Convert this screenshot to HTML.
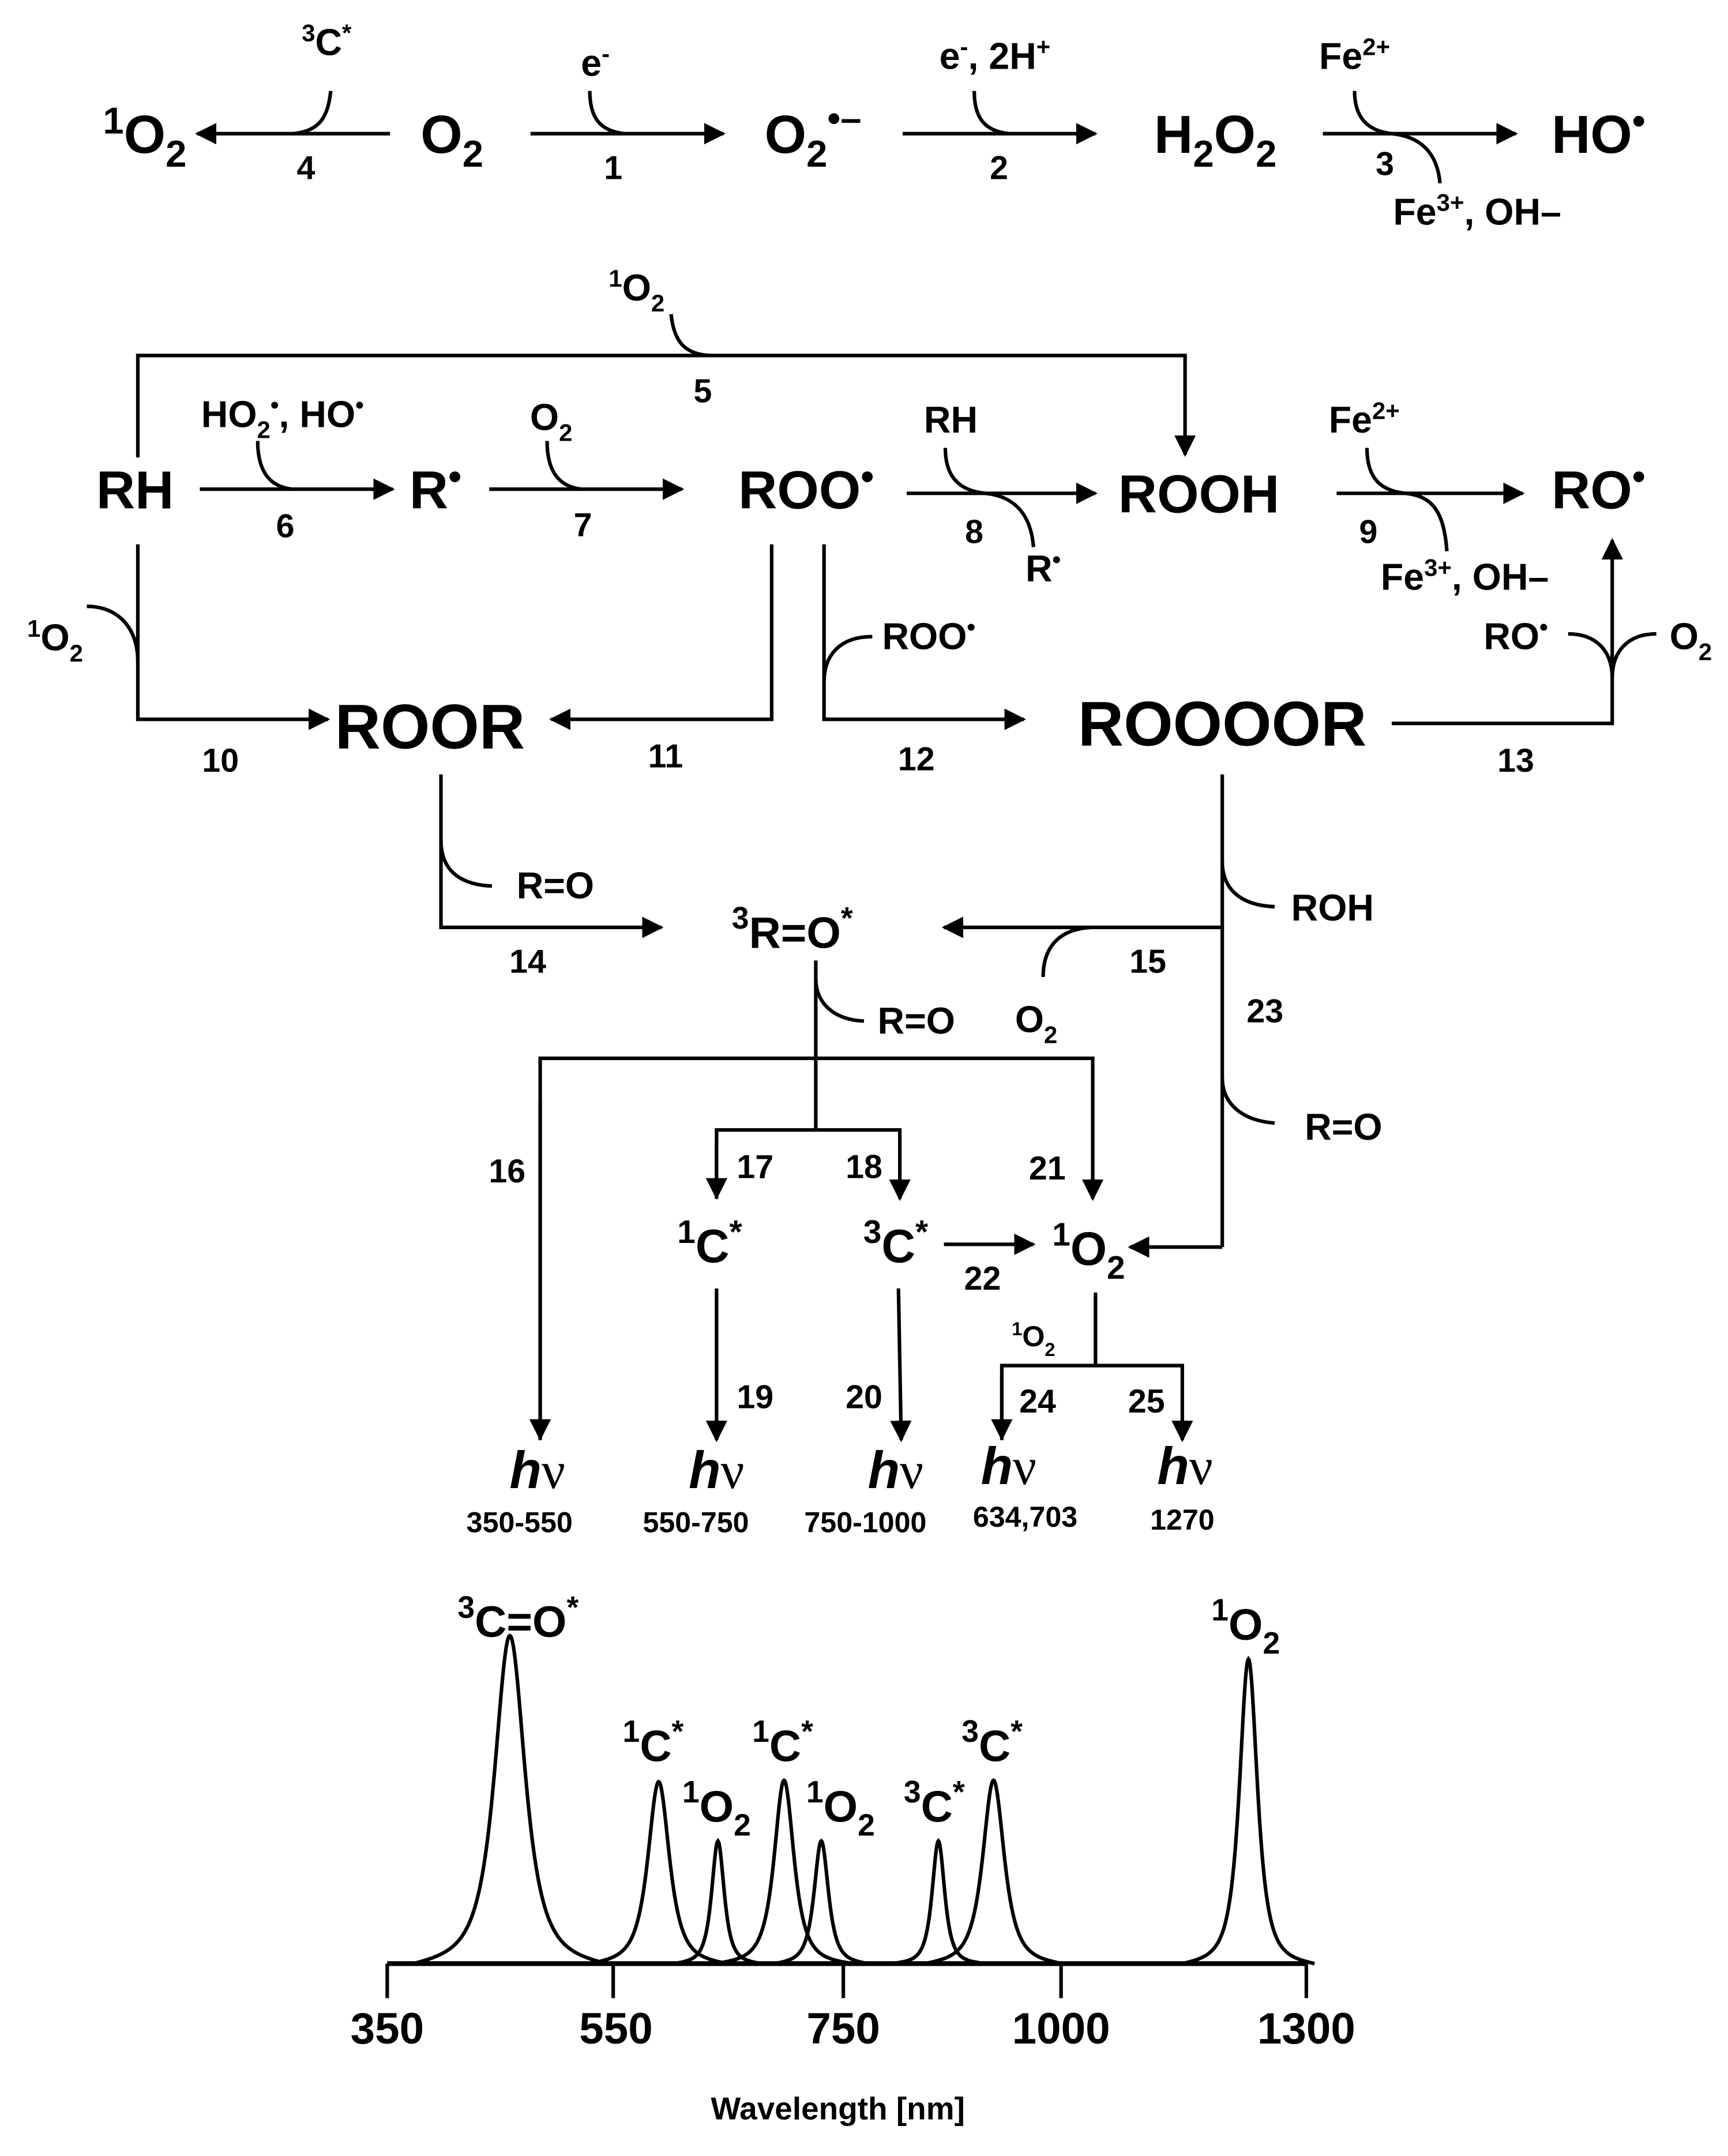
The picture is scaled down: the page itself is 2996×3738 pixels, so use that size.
<!DOCTYPE html>
<html><head><meta charset="utf-8"><style>
html,body{margin:0;padding:0;background:#fff;}
svg{display:block;}
text{font-family:"Liberation Sans",Arial,sans-serif;font-weight:bold;fill:#000;}
.L{font-size:39px;}
.XL{font-size:46px;}
.S{font-size:27px;}
.N{font-size:24px;}
.W{font-size:21px;}
.T{font-size:32px;}
.H{font-size:38px;}
.P{font-size:34px;}
path,line,polyline{fill:none;stroke:#000;stroke-width:2.6;}
</style></head><body>
<svg width="2996" height="3738" viewBox="0 0 1254 1564.6" xmlns="http://www.w3.org/2000/svg">
<defs>
<marker id="a" viewBox="0 0 10 10" refX="9" refY="5" markerWidth="6" markerHeight="6" orient="auto" markerUnits="strokeWidth">
<path d="M0,0 L10,5 L0,10 z" style="fill:#000;stroke:none"/></marker>
</defs>
<g text-anchor="middle">
<!-- Row 1 -->
<text class="L" x="105" y="111"><tspan font-size="70%" dy="-14">1</tspan><tspan dy="14">O</tspan><tspan font-size="70%" dy="10">2</tspan></text>
<line x1="283" y1="97" x2="143" y2="97" marker-end="url(#a)"/>
<path d="M240,66 C238,85 232,95 213,97"/>
<text class="S" x="237" y="40"><tspan font-size="65%" dy="-10">3</tspan><tspan dy="10">C</tspan><tspan font-size="65%" dy="-10">*</tspan></text>
<text class="N" x="222" y="130">4</text>
<text class="L" x="328" y="111">O<tspan font-size="70%" dy="10">2</tspan></text>
<line x1="385" y1="97" x2="525" y2="97" marker-end="url(#a)"/>
<path d="M428,66 C428,85 435,95 453,97"/>
<text class="S" x="432" y="55">e<tspan font-size="65%" dy="-10">-</tspan></text>
<text class="N" x="445" y="130">1</text>
<text class="L" x="590" y="111">O<tspan font-size="70%" dy="10">2</tspan><tspan font-size="70%" dy="-26">•–</tspan></text>
<line x1="655" y1="97" x2="795" y2="97" marker-end="url(#a)"/>
<path d="M707,66 C707,85 714,95 732,97"/>
<text class="S" x="722" y="50">e<tspan font-size="65%" dy="-10">-</tspan><tspan dy="10">, 2H</tspan><tspan font-size="65%" dy="-10">+</tspan></text>
<text class="N" x="725" y="130">2</text>
<text class="L" x="882" y="111">H<tspan font-size="70%" dy="10">2</tspan><tspan dy="-10">O</tspan><tspan font-size="70%" dy="10">2</tspan></text>
<line x1="960" y1="97" x2="1100" y2="97" marker-end="url(#a)"/>
<path d="M983,66 C983,85 992,95 1010,97 C1030,99 1043,110 1045,133"/>
<text class="S" x="983" y="50">Fe<tspan font-size="65%" dy="-10">2+</tspan></text>
<text class="N" x="1005" y="127">3</text>
<text class="S" x="1072" y="163">Fe<tspan font-size="65%" dy="-10">3+</tspan><tspan dy="10">, OH–</tspan></text>
<text class="L" x="1160" y="111">HO<tspan font-size="70%" dy="-14">•</tspan></text>

<!-- Row 2 -->
<text class="S" x="462" y="218"><tspan font-size="65%" dy="-10">1</tspan><tspan dy="10">O</tspan><tspan font-size="65%" dy="8">2</tspan></text>
<path d="M487,228 C489,248 497,257 515,258"/>
<polyline points="100,332 100,258 860,258 860,330" marker-end="url(#a)"/>
<text class="N" x="510" y="292">5</text>
<text class="L" x="98" y="369">RH</text>
<line x1="145" y1="355" x2="285" y2="355" marker-end="url(#a)"/>
<path d="M187,320 C187,340 194,353 212,355"/>
<text class="S" x="205" y="310">HO<tspan font-size="65%" dy="8">2</tspan><tspan font-size="65%" dy="-18">•</tspan><tspan dy="10">, HO</tspan><tspan font-size="65%" dy="-10">•</tspan></text>
<text class="N" x="207" y="390">6</text>
<text class="L" x="316" y="369">R<tspan font-size="70%" dy="-14">•</tspan></text>
<line x1="355" y1="355" x2="495" y2="355" marker-end="url(#a)"/>
<path d="M397,320 C397,340 404,353 422,355"/>
<text class="S" x="400" y="312">O<tspan font-size="65%" dy="8">2</tspan></text>
<text class="N" x="423" y="389">7</text>
<text class="L" x="585" y="369">ROO<tspan font-size="70%" dy="-14">•</tspan></text>
<line x1="658" y1="358" x2="795" y2="358" marker-end="url(#a)"/>
<path d="M686,325 C686,345 695,356 715,358 C735,360 748,372 750,397"/>
<text class="S" x="690" y="314">RH</text>
<text class="N" x="707" y="394">8</text>
<text class="S" x="757" y="422">R<tspan font-size="65%" dy="-10">•</tspan></text>
<text class="L" x="870" y="372">ROOH</text>
<line x1="970" y1="358" x2="1105" y2="358" marker-end="url(#a)"/>
<path d="M992,325 C992,345 1000,356 1020,358 C1040,360 1048,372 1050,400"/>
<text class="S" x="990" y="314">Fe<tspan font-size="65%" dy="-10">2+</tspan></text>
<text class="N" x="993" y="394">9</text>
<text class="S" x="1063" y="428">Fe<tspan font-size="65%" dy="-10">3+</tspan><tspan dy="10">, OH–</tspan></text>
<text class="L" x="1160" y="369">RO<tspan font-size="70%" dy="-14">•</tspan></text>

<!-- Row 3 -->
<polyline points="100,395 100,522 238,522" marker-end="url(#a)"/>
<path d="M63,440 C85,440 100,455 100,480"/>
<text class="S" x="40" y="472"><tspan font-size="65%" dy="-10">1</tspan><tspan dy="10">O</tspan><tspan font-size="65%" dy="8">2</tspan></text>
<text class="N" x="160" y="560">10</text>
<text class="XL" x="312" y="543">ROOR</text>
<polyline points="560,395 560,522 400,522" marker-end="url(#a)"/>
<text class="N" x="483" y="557">11</text>
<polyline points="598,395 598,522 743,522" marker-end="url(#a)"/>
<path d="M633,462 C610,462 598,475 598,495"/>
<text class="S" x="674" y="471">ROO<tspan font-size="65%" dy="-10">•</tspan></text>
<text class="N" x="665" y="559">12</text>
<text class="XL" x="887" y="541">ROOOOR</text>
<polyline points="1010,525 1170,525 1170,392" marker-end="url(#a)"/>
<path d="M1138,460 C1158,460 1170,472 1170,492 C1170,472 1182,460 1202,460"/>
<text class="S" x="1100" y="471">RO<tspan font-size="65%" dy="-10">•</tspan></text>
<text class="S" x="1227" y="471">O<tspan font-size="65%" dy="8">2</tspan></text>
<text class="N" x="1100" y="560">13</text>

<!-- Row 4 -->
<polyline points="320,562 320,673 480,673" marker-end="url(#a)"/>
<path d="M320,610 C320,630 332,642 357,643"/>
<text class="S" x="403" y="652">R=O</text>
<text class="N" x="383" y="706">14</text>
<text class="T" x="575" y="688"><tspan font-size="70%" dy="-14">3</tspan><tspan dy="14">R=O</tspan><tspan font-size="70%" dy="-14">*</tspan></text>
<line x1="887" y1="562" x2="887" y2="905"/>
<polyline points="887,673 685,673" marker-end="url(#a)"/>
<path d="M887,625 C887,645 900,657 925,658"/>
<text class="S" x="967" y="668">ROH</text>
<path d="M757,709 C757,686 770,674 792,673"/>
<text class="S" x="752" y="749">O<tspan font-size="65%" dy="8">2</tspan></text>
<text class="N" x="833" y="706">15</text>
<text class="N" x="918" y="742">23</text>
<path d="M887,782 C887,800 900,813 925,815"/>
<text class="S" x="975" y="827">R=O</text>
<polyline points="887,905 820,905" marker-end="url(#a)"/>

<line x1="592" y1="697" x2="592" y2="820"/>
<path d="M592,710 C592,728 605,740 627,741"/>
<text class="S" x="665" y="750">R=O</text>
<polyline points="392,1045 392,768 793,768 793,870" marker-end="url(#a)"/>
<line x1="392" y1="800" x2="392" y2="1044" marker-end="url(#a)"/>
<polyline points="520,870 520,820 653,820 653,870" marker-end="url(#a)"/>
<line x1="520" y1="830" x2="520" y2="869" marker-end="url(#a)"/>
<text class="N" x="368" y="858">16</text>
<text class="N" x="548" y="855">17</text>
<text class="N" x="627" y="855">18</text>
<text class="N" x="760" y="856">21</text>
<text class="P" x="515" y="916"><tspan font-size="70%" dy="-14">1</tspan><tspan dy="14">C</tspan><tspan font-size="70%" dy="-14">*</tspan></text>
<text class="P" x="650" y="916"><tspan font-size="70%" dy="-14">3</tspan><tspan dy="14">C</tspan><tspan font-size="70%" dy="-14">*</tspan></text>
<line x1="685" y1="903" x2="750" y2="903" marker-end="url(#a)"/>
<text class="N" x="713" y="936">22</text>
<text class="P" x="790" y="918"><tspan font-size="70%" dy="-14">1</tspan><tspan dy="14">O</tspan><tspan font-size="70%" dy="10">2</tspan></text>
<line x1="520" y1="935" x2="520" y2="1045" marker-end="url(#a)"/>
<line x1="652" y1="935" x2="654" y2="1045" marker-end="url(#a)"/>
<text class="N" x="548" y="1022">19</text>
<text class="N" x="627" y="1022">20</text>
<line x1="795" y1="938" x2="795" y2="991"/>
<polyline points="727,1045 727,991 858,991 858,1045" marker-end="url(#a)"/>
<line x1="727" y1="1000" x2="727" y2="1044" marker-end="url(#a)"/>
<text class="W" x="750" y="977"><tspan font-size="65%" dy="-8">1</tspan><tspan dy="8">O</tspan><tspan font-size="65%" dy="7">2</tspan></text>
<text class="N" x="753" y="1025">24</text>
<text class="N" x="832" y="1025">25</text>

<text class="H" x="390" y="1080"><tspan font-style="italic">h</tspan><tspan font-weight="normal" font-family="Liberation Serif, serif">ν</tspan></text>
<text class="H" x="520" y="1080"><tspan font-style="italic">h</tspan><tspan font-weight="normal" font-family="Liberation Serif, serif">ν</tspan></text>
<text class="H" x="650" y="1080"><tspan font-style="italic">h</tspan><tspan font-weight="normal" font-family="Liberation Serif, serif">ν</tspan></text>
<text class="H" x="732" y="1077"><tspan font-style="italic">h</tspan><tspan font-weight="normal" font-family="Liberation Serif, serif">ν</tspan></text>
<text class="H" x="860" y="1077"><tspan font-style="italic">h</tspan><tspan font-weight="normal" font-family="Liberation Serif, serif">ν</tspan></text>
<text class="W" x="377" y="1112">350-550</text>
<text class="W" x="505" y="1112">550-750</text>
<text class="W" x="628" y="1112">750-1000</text>
<text class="W" x="744" y="1108">634,703</text>
<text class="W" x="858" y="1110">1270</text>

<!-- Spectrum -->
<line x1="281" y1="1425" x2="948" y2="1425" style="stroke-width:3.5"/>
<line x1="281" y1="1425" x2="281" y2="1450"/>
<line x1="445" y1="1425" x2="445" y2="1450"/>
<line x1="612" y1="1425" x2="612" y2="1450"/>
<line x1="770" y1="1425" x2="770" y2="1450"/>
<line x1="948" y1="1425" x2="948" y2="1450"/>
<text class="T" x="281" y="1483">350</text>
<text class="T" x="447" y="1483">550</text>
<text class="T" x="612" y="1483">750</text>
<text class="T" x="770" y="1483">1000</text>
<text class="T" x="948" y="1483">1300</text>
<text x="608" y="1538" style="font-size:23px">Wavelength [nm]</text>
<g id="peaks"></g>
<text class="T" x="376" y="1188"><tspan font-size="70%" dy="-14">3</tspan><tspan dy="14">C=O</tspan><tspan font-size="70%" dy="-14">*</tspan></text>
<text class="T" x="474" y="1278"><tspan font-size="70%" dy="-14">1</tspan><tspan dy="14">C</tspan><tspan font-size="70%" dy="-14">*</tspan></text>
<text class="T" x="568" y="1278"><tspan font-size="70%" dy="-14">1</tspan><tspan dy="14">C</tspan><tspan font-size="70%" dy="-14">*</tspan></text>
<text class="T" x="720" y="1278"><tspan font-size="70%" dy="-14">3</tspan><tspan dy="14">C</tspan><tspan font-size="70%" dy="-14">*</tspan></text>
<text class="T" x="520" y="1322"><tspan font-size="70%" dy="-14">1</tspan><tspan dy="14">O</tspan><tspan font-size="70%" dy="10">2</tspan></text>
<text class="T" x="610" y="1322"><tspan font-size="70%" dy="-14">1</tspan><tspan dy="14">O</tspan><tspan font-size="70%" dy="10">2</tspan></text>
<text class="T" x="678" y="1322"><tspan font-size="70%" dy="-14">3</tspan><tspan dy="14">C</tspan><tspan font-size="70%" dy="-14">*</tspan></text>
<text class="T" x="904" y="1190"><tspan font-size="70%" dy="-14">1</tspan><tspan dy="14">O</tspan><tspan font-size="70%" dy="10">2</tspan></text>
</g>
</svg>
<script>
(function(){
var pk=[[370,1187,17,70],[478,1293,12,50],[521,1336,7,32],[569,1292,11,50],[596,1336,8,34],[681,1336,7,34],[721,1292,12,50],[906,1204,10,48]];
var g=document.getElementById('peaks'),s='';
pk.forEach(function(p){var x0=p[0],top=p[1],w=p[2],r=p[3],h=1425-top,d='';
for(var x=x0-r;x<=x0+r;x+=0.5){var t=(x-x0)/w;var y=1425-h*Math.pow(1+t*t,-1.5);
var e=Math.abs(x-x0)/r; y=1425-(1425-y)*(1-Math.pow(e,6));
d+=(d?'L':'M')+x.toFixed(1)+','+y.toFixed(1);}
s+='<path d="'+d+'"/>';});
g.innerHTML=s;})();
</script>
</body></html>
